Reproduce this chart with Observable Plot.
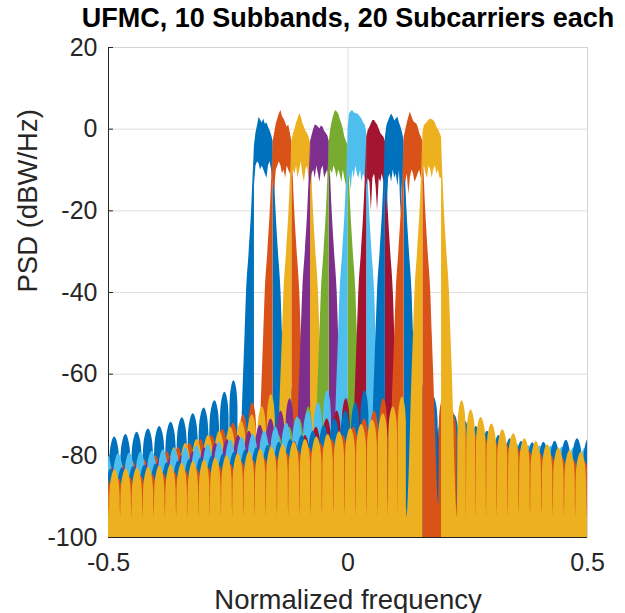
<!DOCTYPE html>
<html><head><meta charset="utf-8">
<script src="https://cdn.jsdelivr.net/npm/d3@7"></script>
<script src="https://cdn.jsdelivr.net/npm/@observablehq/plot@0.6"></script>
<style>body{margin:0;background:#fff}</style>
</head><body><div id="chart"></div>
<script>
// ---------------- data ----------------
const titleText = "UFMC, 10 Subbands, 20 Subcarriers each";
const xLabel = "Normalized frequency";
const yLabel = "PSD (dBW/Hz)";
const xTicks = [-0.5, 0, 0.5];
const yTicks = [-100, -80, -60, -40, -20, 0, 20];
const subbandColors = ["#0072BD","#D95319","#EDB120","#7E2F8E","#77AC30","#4DBEEE","#A2142F","#0072BD","#D95319","#EDB120"];
const bandLeft  = [-0.1953, -0.1563, -0.1172, -0.0781, -0.0391, 0.0000, 0.0391, 0.0781, 0.1172, 0.1563];
const bandRight = [-0.1563, -0.1172, -0.0781, -0.0391, 0.0000, 0.0391, 0.0781, 0.1172, 0.1563, 0.1953];
const floorDb = -100;

// in-band (main lobe) profile, sampled at fractions of each subband
const plateauFrac = [0, 0.08, 0.17, 0.25, 0.33, 0.42, 0.5, 0.58, 0.67, 0.75, 0.83, 0.92, 1];
const plateauTop = [
  [-4, -1, 1, 2.9, 2.2, 1.5, 2.5, 1.2, 1.5, 0.5, -0.3, -1.5, -3],
  [-3, -1, 1.3, 2.5, 3.8, 4.6, 3, 2.5, 1.5, 0.5, 1, -1, -3],
  [-3, -1.1, 0, 1.5, 2.5, 3.8, 3, 1.5, 0.5, -0.5, -1, -2, -3.5],
  [-3, -1.5, 0, 1, 0.9, 0.5, 0.1, 0.8, 0.5, -0.5, -1, -1.6, -3],
  [-3, 0, 2.1, 3.5, 4.6, 4.2, 3.8, 2.5, 1.3, 0, -2, -3, -4],
  [0, 3.8, 4.3, 4.6, 4, 3.8, 3.8, 3.5, 2.9, 2.5, 1.5, 1, -1],
  [-2, -0.3, 0.5, 1.3, 2.1, 2.1, 1.5, 1, 0, -1, -1.5, -2, -3],
  [-2, 0.9, 2, 2.9, 3.7, 3, 2, 2.5, 2.9, 1.5, 0.5, -1, -3],
  [-2, -0.3, 1.5, 2.9, 4.2, 3, 2, 1.5, 1.3, 0.5, -1, -2, -3],
  [-1, 0.9, 1.3, 1.7, 2.2, 2.5, 2.3, 2.1, 1.5, 0.5, 0, -1, -2]
];
const plateauBottom = [
  [-14, -9, -8, -8.5, -10, -9, -10, -11, -12, -9, -8, -10, -13],
  [-13, -15, -10, -9, -8, -9, -11, -10, -12, -9, -10, -11, -14],
  [-12, -10, -11, -9, -12, -10, -8, -11, -13, -10, -9, -12, -14],
  [-14, -11, -10, -12, -9, -11, -13, -10, -9, -12, -11, -10, -13],
  [-13, -10, -11, -9, -10, -12, -10, -11, -13, -10, -12, -14, -15],
  [-12, -11, -15, -10, -12, -9, -11, -12, -10, -13, -11, -12, -14],
  [-14, -12, -13, -20, -12, -11, -14, -20, -12, -13, -11, -13, -15],
  [-14, -21, -12, -11, -13, -10, -12, -11, -14, -10, -21, -12, -15],
  [-12, -13, -11, -16, -12, -10, -11, -13, -12, -11, -10, -12, -14],
  [-10, -9, -11, -12, -9, -10, -12, -10, -9, -11, -10, -12, -12]
];

// filter skirt just outside each subband edge (distance from edge, dB)
const skirtOff = [0.003, 0.006, 0.011, 0.0165, 0.0195, 0.022];
const skirtDb  = [-12, -20, -30, -40, -50, -58];

// out-of-band side lobes: distance of peaks / nulls from the subband edge
const lobePeakOff = [0.0428, 0.0616, 0.0825, 0.105, 0.1278, 0.1506, 0.174, 0.1978, 0.2214, 0.245, 0.2684, 0.2918, 0.3152, 0.3386, 0.362, 0.3854, 0.4088, 0.4322, 0.4556, 0.479, 0.5024, 0.5258, 0.5492, 0.5726, 0.596, 0.6194, 0.6428, 0.6662];
const lobeNullOff = [0.0335, 0.052, 0.072, 0.094, 0.1164, 0.1392, 0.1623, 0.1859, 0.2096, 0.2332, 0.2567, 0.2801, 0.3035, 0.3269, 0.3503, 0.3737, 0.3971, 0.4205, 0.4439, 0.4673, 0.4907, 0.5141, 0.5375, 0.5609, 0.5843, 0.6077, 0.6311, 0.6545, 0.6779];
// shape of one lobe: [fraction of the way from peak to null, dB below peak]
const lobeShape = [[-0.9, -6], [-0.6, -2], [0, 0], [0.6, -2], [0.9, -6]];
const nullDepth = [-92, -92, -92, -92, -92, -92, -92, -92, -92, -95];

// side-lobe peak levels (dB), going outward from the subband edge
const leftLobeDb = [
  [-61.6, -64.4, -66.5, -68.3, -69.7, -70.7, -71.8, -72.8, -73.4, -74.2, -74.8, -75.4, -76],
  [-67, -70, -72, -73.5, -75, -76, -77, -78, -79, -80, -81, -81.6, -82.1, -82.6, -83.1],
  [-65, -68, -70, -71.5, -73, -74, -75, -76, -77, -78, -79, -79.6, -80.1, -80.6, -81.1, -81.5],
  [-66, -69, -71, -72.5, -74, -75, -76, -77, -78, -79, -80, -80.6, -81.1, -81.6, -82.1, -82.5, -82.9, -83.3],
  [-68, -71, -73, -75, -77, -78.5, -80, -81, -81.7, -82.4, -83, -83.6, -84.1, -84.6, -85.1, -85.5, -85.9, -86.3, -86.7, -87],
  [-64, -67, -69, -70.5, -72, -73, -74, -74.8, -75.5, -76.1, -76.7, -77.2, -77.6, -78, -78.3, -78.6, -78.9, -79.1, -79.3, -79.5, -79.7],
  [-66, -69, -71, -73, -75, -76.5, -78, -79, -79.7, -80.4, -81, -81.6, -82.1, -82.6, -83.1, -83.5, -83.9, -84.3, -84.7, -85, -85.3, -85.6, -85.9],
  [-64, -67, -69, -71, -72.5, -74, -75, -76, -76.7, -77.4, -78, -78.6, -79.1, -79.6, -80.1, -80.5, -80.9, -81.3, -81.7, -82, -82.3, -82.6, -82.9, -83.2, -83.5],
  [-66, -69, -71, -73, -75, -76, -77, -78, -78.7, -79.4, -80, -80.6, -81.1, -81.6, -82.1, -82.5, -82.9, -83.3, -83.7, -84, -84.3, -84.6, -84.9, -85.2, -85.5, -85.8],
  [-65.6, -68, -69.7, -71.2, -72.3, -73.3, -74.1, -74.8, -75.4, -76, -76.6, -77.2, -77.8, -78.4, -79, -79.5, -80, -80.5, -81, -81.4, -81.8, -82.2, -82.5, -82.8, -83, -83.2, -83.4, -83.6]
];
const rightLobeDb = [
  [-63, -66, -68, -69.5, -71, -72, -73, -74, -74.7, -75.4, -76, -76.6, -77.1, -77.6, -78.1, -78.5, -78.9, -79.3, -79.7, -80, -80.3, -80.6, -80.9, -81.2, -81.5, -81.8, -82, -82.3],
  [-66, -69, -71, -73, -75, -76, -77, -78, -78.7, -79.4, -80, -80.6, -81.1, -81.6, -82.1, -82.5, -82.9, -83.3, -83.7, -84, -84.3, -84.6, -84.9, -85.2, -85.5, -85.8, -86],
  [-66, -69, -71, -73, -75, -76, -77, -78, -78.7, -79.4, -80, -80.6, -81.1, -81.6, -82.1, -82.5, -82.9, -83.3, -83.7, -84, -84.3, -84.6, -84.9, -85.2, -85.5],
  [-65, -68, -70, -72, -74, -75, -76, -77, -77.7, -78.4, -79, -79.6, -80.1, -80.6, -81.1, -81.5, -81.9, -82.3, -82.7, -83, -83.3, -83.6, -83.9, -84.2],
  [-68, -71, -73, -75, -77, -78, -79, -80, -80.7, -81.4, -82, -82.6, -83.1, -83.6, -84.1, -84.5, -84.9, -85.3, -85.7, -86, -86.3, -86.6],
  [-63, -66, -68.5, -70.5, -72, -73.2, -74.2, -75, -75.6, -76.1, -76.6, -77, -77.3, -77.5, -77.6, -77.6, -77.8, -78, -78.2, -78.4],
  [-66, -69, -71, -73, -75, -77, -78, -79, -79.7, -80.4, -81, -81.6, -82.1, -82.6, -83.1, -83.5, -83.9, -84.3, -84.7],
  [-62, -65.5, -68, -70, -71.5, -72.8, -74, -75, -75.8, -76.5, -76.8, -76.7, -76.4, -76.2, -75.8, -75.8, -76],
  [-66, -69, -71.5, -73.5, -75, -76, -77, -78, -78.7, -79.4, -80, -80.6, -81.1, -81.6, -82.1],
  [-66.5, -68.8, -70.6, -72.2, -73.6, -74.6, -75.8, -76.5, -77.3, -78.1, -78.7, -79.1, -79.5, -79.9]
];

// ---------------- build tables ----------------
function sidePoints(k, dir) {
  const edge = dir < 0 ? bandLeft[k] : bandRight[k];
  const top = plateauTop[k];
  const edgeTop = dir < 0 ? top[0] : top[top.length - 1];
  const levels = dir < 0 ? leftLobeDb[k] : rightLobeDb[k];
  const pts = [{d: 0, db: edgeTop}];
  skirtOff.forEach((d, j) => pts.push({d, db: skirtDb[j]}));
  levels.forEach((L, i) => {
    const p = lobePeakOff[i], nIn = lobeNullOff[i], nOut = lobeNullOff[i + 1];
    pts.push({d: nIn, db: nullDepth[k]});
    for (const [f, drop] of lobeShape) {
      pts.push({d: f < 0 ? p + f * (p - nIn) : p + f * (nOut - p), db: L + drop});
    }
  });
  pts.push({d: lobeNullOff[levels.length], db: nullDepth[k]});
  return pts.map(({d, db}) => ({x: edge + dir * d, y1: floorDb, y2: db})).sort((a, b) => a.x - b.x);
}
function plateauPoints(k) {
  const w = bandRight[k] - bandLeft[k];
  return plateauFrac.map((f, j) => ({x: bandLeft[k] + f * w, y1: plateauBottom[k][j], y2: plateauTop[k][j]}));
}

const dataMarks = [];
for (let k = 0; k < subbandColors.length; k++) {
  const fill = subbandColors[k];
  dataMarks.push(Plot.areaY(sidePoints(k, -1), {x: "x", y1: "y1", y2: "y2", fill, curve: "monotone-x", clip: true}));
  dataMarks.push(Plot.areaY(plateauPoints(k), {x: "x", y1: "y1", y2: "y2", fill, curve: "linear", clip: true}));
  dataMarks.push(Plot.areaY(sidePoints(k, 1), {x: "x", y1: "y1", y2: "y2", fill, curve: "monotone-x", clip: true}));
}

const gridColor = "#dedede";
const axisColor = "#262626";
const chart = Plot.plot({
  width: 625, height: 613,
  marginLeft: 108, marginRight: 38, marginTop: 47, marginBottom: 76,
  style: {fontFamily: "'Liberation Sans', Arial, Helvetica, sans-serif", background: "#fff", color: axisColor},
  x: {domain: [-0.5, 0.5], axis: null},
  y: {domain: [-100, 20], axis: null},
  marks: [
    Plot.gridX(xTicks, {stroke: gridColor, strokeOpacity: 1}),
    Plot.gridY(yTicks, {stroke: gridColor, strokeOpacity: 1}),
    Plot.frame({stroke: "#d4d4d4"}),
    Plot.ruleX([-0.5], {stroke: axisColor}),
    Plot.ruleY([-100], {stroke: axisColor}),
    Plot.axisY({ticks: yTicks, tickSize: -5, tickFormat: () => "", stroke: axisColor}),
    ...dataMarks,
    Plot.axisY({ticks: yTicks, tickSize: 0, tickPadding: 11, tickFormat: d => String(d), fontSize: 25, label: null, fill: "#262626"}),
    Plot.axisX({ticks: xTicks, tickSize: 0, tickPadding: 16, tickFormat: d => String(d), fontSize: 25, label: null, fill: "#262626"}),
    Plot.text([titleText], {frameAnchor: "top", dy: -21, lineAnchor: "bottom", fontSize: 27, fontWeight: "bold", fill: "#000"}),
    Plot.text([xLabel], {frameAnchor: "bottom", dy: 71, lineAnchor: "bottom", fontSize: 27.5, fill: "#262626"}),
    Plot.text([yLabel], {frameAnchor: "left", dx: -72, rotate: -90, lineAnchor: "bottom", fontSize: 27.5, fill: "#262626"})
  ]
});
document.getElementById("chart").appendChild(chart);
</script>
</body></html>
